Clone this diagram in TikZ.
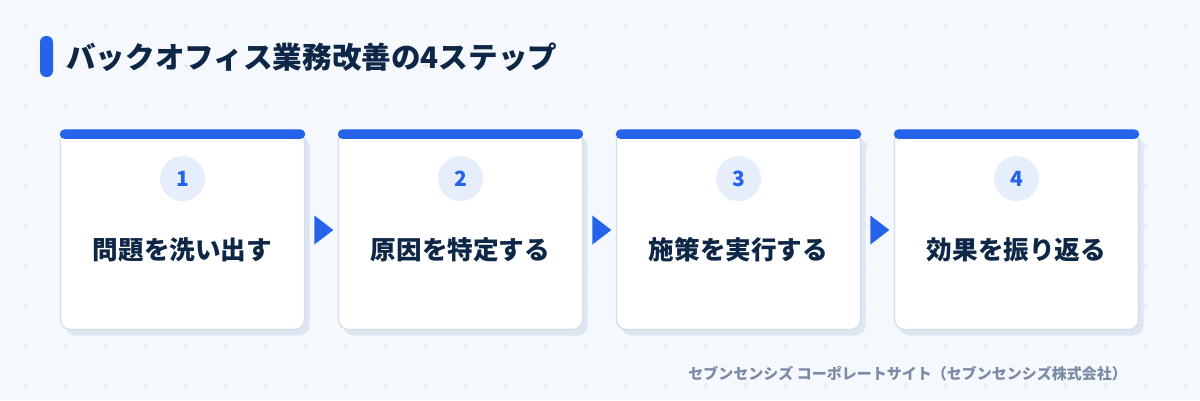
\documentclass[tikz,border=0pt]{standalone}
\usepackage{fontspec}
\setmainfont{Noto Sans CJK JP}
\usetikzlibrary{positioning,shadows,shapes.geometric,calc}
\definecolor{pagebg}{HTML}{F5F8FD}
\definecolor{gridmark}{HTML}{DDE4EE}
\definecolor{stepblue}{HTML}{2563EB}
\definecolor{navy}{HTML}{0F2747}
\definecolor{cardline}{HTML}{D3DEEC}
\definecolor{cardshade}{HTML}{DEE6F1}
\definecolor{numfill}{HTML}{E7EEFB}
\definecolor{footgray}{HTML}{7B8BA6}

\begin{document}
\begin{tikzpicture}[
		x=1pt, y=-1pt,
		stepcard/.style={rectangle, draw=cardline, line width=1.2pt, fill=white, rounded corners=10pt,
			minimum width=244pt, minimum height=199pt, inner sep=0pt,
			general shadow={shadow xshift=5pt, shadow yshift=-6pt, fill=cardshade}},
		stepnum/.style={circle, fill=numfill, minimum size=45pt, inner sep=0pt,
			font=\fontsize{21pt}{21pt}\selectfont\bfseries, text=stepblue},
		steptext/.style={font=\fontsize{25.6pt}{25.6pt}\selectfont\bfseries, text=navy, inner sep=0pt},
		steparrow/.style={isosceles triangle, isosceles triangle apex angle=75, fill=stepblue,
			minimum height=19pt, minimum width=25pt, inner sep=0pt}
		]
		% background and dot grid
		\fill[pagebg] (0,0) rectangle (1200,400);
		\useasboundingbox (0,0) rectangle (1200,400);
		\foreach \gx in {0,...,29}
			\foreach \gy in {0,...,9}
				\draw[gridmark, line width=0.8pt] (25+40*\gx-2.5,25+40*\gy) -- ++(5,0)
					(25+40*\gx,25+40*\gy-2.5) -- ++(0,5);

		% title
		\fill[stepblue, rounded corners=6pt] (40,36) rectangle (53,77);
		\node[anchor=west, inner sep=0pt, font=\fontsize{29.6pt}{29.6pt}\selectfont\bfseries, text=navy]
			(title) at (66,57) {バックオフィス業務改善の4ステップ};

		% cards
		\node[stepcard] (card1) at (182.5,230) {};
		\node[stepcard, right=32.8pt of card1] (card2) {};
		\node[stepcard, right=32.8pt of card2] (card3) {};
		\node[stepcard, right=32.8pt of card3] (card4) {};

		\foreach \n/\txt in {1/問題を洗い出す, 2/原因を特定する, 3/施策を実行する, 4/効果を振り返る} {
			\fill[stepblue, rounded corners=4.5pt] (card\n.north west) ++(0,-0.5) rectangle ([yshift=-9pt]card\n.north east);
			\node[stepnum, below=26pt of card\n.north] (num\n) {\n};
			\node[steptext] (label\n) at ([yshift=-20pt]card\n.center) {\txt};
		}

		% arrows between cards
		\foreach \a/\b in {1/2, 2/3, 3/4}
			\node[steparrow] (arrow\a) at ($(card\a.east)!0.5!(card\b.west)$) {};

		% footer
		\node[anchor=east, inner sep=0pt, font=\fontsize{15pt}{15pt}\selectfont\bfseries, text=footgray]
			(footer) at (1127,374) {セブンセンシズ コーポレートサイト（セブンセンシズ株式会社）};
\end{tikzpicture}
\end{document}
